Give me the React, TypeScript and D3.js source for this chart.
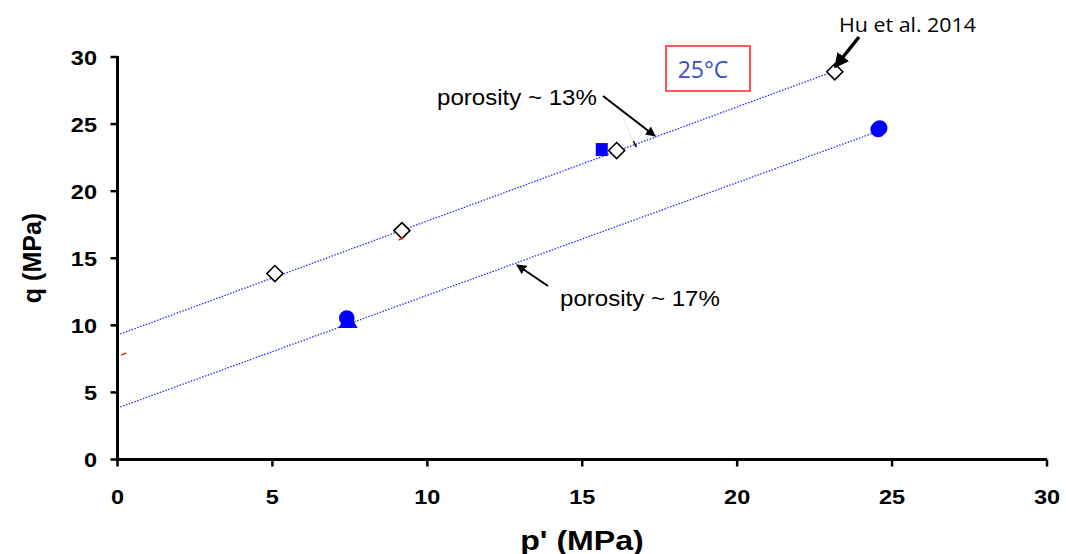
import React from "react";
import * as d3 from "d3";

const W = 1066;
const H = 554;

const xTicks = [0, 5, 10, 15, 20, 25, 30];
const yTicks = [0, 5, 10, 15, 20, 25, 30];

// open diamonds (Hu et al. 2014)
const diamondP = [5.08, 9.18, 16.11, 23.15];
const diamondQ = [13.86, 17.06, 23.03, 28.9];
// blue square
const squareP = [15.63];
const squareQ = [23.1];
// blue circles
const circleP = [7.4, 24.55, 24.6];
const circleQ = [10.54, 24.6, 24.7];
// blue triangle
const triP = [7.44];
const triQ = [10.22];
// small red marks
const redP = [0.2, 9.15];
const redQ = [7.86, 16.43];

// trend lines
const trend13 = { x0: 0, x1: 23.15, b: 9.28, m: 0.85 };
const trend17 = { x0: 0, x1: 24.6, b: 3.84, m: 0.84 };

export default function App() {
  const x = d3.scaleLinear().domain([0, 30]).range([117.5, 1047]);
  const y = d3.scaleLinear().domain([0, 30]).range([459.5, 57]);
  const line = d3
    .line<number[]>()
    .x((d) => x(d[0]))
    .y((d) => y(d[1]));

  const trendPath = (t: typeof trend13) =>
    line([
      [t.x0, t.b + t.m * t.x0],
      [t.x1, t.b + t.m * t.x1],
    ]);

  const arial = "'Liberation Sans', Arial, sans-serif";
  const tri = d3.symbol().type(d3.symbolTriangle).size(160)();

  return (
    <svg
      width={W}
      height={H}
      style={{ position: "absolute", left: 0, top: 0, background: "#fff" }}
    >
      <defs>
        <marker id="ah" viewBox="0 0 10 10" refX="9" refY="5" markerWidth="5" markerHeight="5" orient="auto" markerUnits="strokeWidth">
          <path d="M0,0 L10,5 L0,10 z" fill="#000" />
        </marker>
        <marker id="ah2" viewBox="0 0 10 10" refX="9" refY="5" markerWidth="4.2" markerHeight="4.2" orient="auto" markerUnits="strokeWidth">
          <path d="M0,0 L10,5 L0,10 z" fill="#000" />
        </marker>
      </defs>

      {/* trend lines */}
      <path d={trendPath(trend13) || ""} stroke="#2a2aff" strokeWidth={1.3} strokeDasharray="1.5 1.5" fill="none" />
      <path d={trendPath(trend17) || ""} stroke="#2a2aff" strokeWidth={1.3} strokeDasharray="1.5 1.5" fill="none" />

      {/* faint grey leader and small black tick */}
      <line x1={619} y1={108} x2={633} y2={141} stroke="#e2e2e2" strokeWidth={0.8} />
      <line x1={x(16.7) - 1.5} y1={y(23.5) - 3} x2={x(16.7) + 1.5} y2={y(23.5) + 3} stroke="#000" strokeWidth={1.5} />

      {/* square */}
      {squareP.map((p, i) => (
        <rect key={"s" + i} x={x(p) - 6} y={y(squareQ[i]) - 6.5} width={12} height={13} fill="#0000ff" />
      ))}
      {/* circles */}
      {circleP.map((p, i) => (
        <circle key={"c" + i} cx={x(p)} cy={y(circleQ[i])} r={7.8} fill="#0000ff" />
      ))}
      {/* triangle */}
      {triP.map((p, i) => (
        <path key={"t" + i} d={tri || ""} transform={`translate(${x(p)},${y(triQ[i])})`} fill="#0000ff" />
      ))}
      {/* diamonds */}
      {diamondP.map((p, i) => (
        <path
          key={"d" + i}
          d="M0,-8 L8,0 L0,8 L-8,0 Z"
          transform={`translate(${x(p)},${y(diamondQ[i])})`}
          fill="#fff"
          stroke="#000"
          strokeWidth={1.6}
        />
      ))}
      {/* red marks */}
      {redP.map((p, i) => (
        <line key={"r" + i} x1={x(p) - 2.5} x2={x(p) + 2.5} y1={y(redQ[i]) + 1} y2={y(redQ[i]) - 1} stroke="#e03030" strokeWidth={1.5} />
      ))}

      {/* axes */}
      <line x1={x(0)} x2={x(30)} y1={y(0)} y2={y(0)} stroke="#000" strokeWidth={3} />
      <line x1={x(0)} x2={x(0)} y1={y(0) + 1.5} y2={y(30) - 1} stroke="#000" strokeWidth={3} />
      {xTicks.map((t) => (
        <g key={"xt" + t}>
          <line x1={x(t)} x2={x(t)} y1={y(0)} y2={y(0) + 7} stroke="#000" strokeWidth={2.5} />
          <text transform={`translate(${x(t)},504) scale(1.12,1)`} textAnchor="middle" fontFamily={arial} fontWeight="bold" fontSize={21} fill="#000">
            {t}
          </text>
        </g>
      ))}
      {yTicks.map((t) => (
        <g key={"yt" + t}>
          <line x1={x(0) - 7} x2={x(0)} y1={y(t)} y2={y(t)} stroke="#000" strokeWidth={2.5} />
          <text transform={`translate(97,${y(t) + 7.5}) scale(1.12,1)`} textAnchor="end" fontFamily={arial} fontWeight="bold" fontSize={21} fill="#000">
            {t}
          </text>
        </g>
      ))}

      {/* axis titles */}
      <text transform="translate(582,550) scale(1.19,1)" textAnchor="middle" fontFamily={arial} fontWeight="bold" fontSize={27} fill="#000">
        p' (MPa)
      </text>
      <text transform="translate(41,258) rotate(-90)" textAnchor="middle" fontFamily={arial} fontWeight="bold" fontSize={25} fill="#000">
        q (MPa)
      </text>

      {/* 25°C box */}
      <rect x={666} y={46} width={84} height={45} fill="#fff" stroke="#ff2020" strokeWidth={1.5} />
      <text x={703} y={78} textAnchor="middle" fontFamily="'Open Sans', sans-serif" fontSize={23} fill="#3a50c0">
        25°C
      </text>

      {/* Hu et al. 2014 */}
      <text transform="translate(839,32) scale(1.07,1)" fontFamily="'Open Sans', sans-serif" fontSize={20} fill="#000">
        Hu et al. 2014
      </text>
      <line x1={859} y1={37} x2={835} y2={67} stroke="#000" strokeWidth={3.5} markerEnd="url(#ah2)" />

      {/* porosity labels */}
      <text transform="translate(437,105) scale(1.095,1)" fontFamily={arial} fontSize={22} fill="#000">
        porosity ~ 13%
      </text>
      <line x1={603} y1={96} x2={655} y2={136} stroke="#000" strokeWidth={2} markerEnd="url(#ah)" />

      <text transform="translate(560,306) scale(1.095,1)" fontFamily={arial} fontSize={22} fill="#000">
        porosity ~ 17%
      </text>
      <line x1={548} y1={286} x2={517} y2={265} stroke="#000" strokeWidth={2} markerEnd="url(#ah)" />
    </svg>
  );
}
